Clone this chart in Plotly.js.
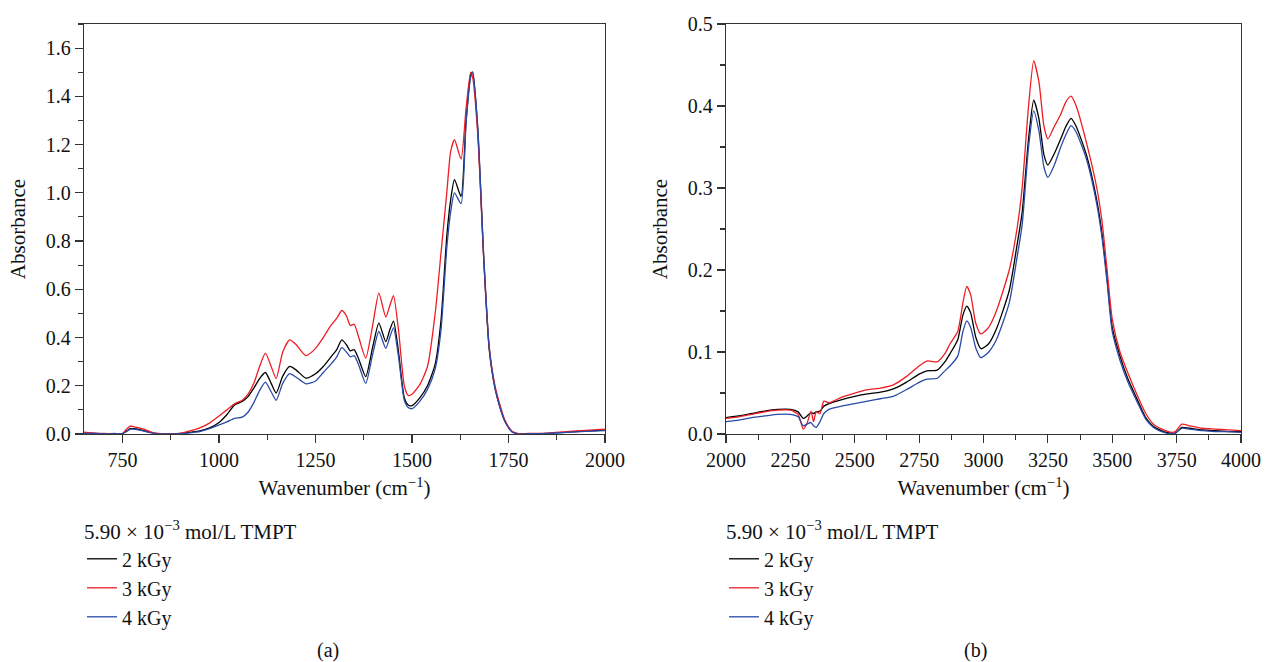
<!DOCTYPE html>
<html>
<head>
<meta charset="utf-8">
<script src="https://cdn.plot.ly/plotly-3.0.1.min.js"></script>
<style>html,body{margin:0;padding:0;background:#fff;}#chart{width:1267px;height:662px;}</style>
</head>
<body>
<div id="chart"></div>
<script>
// ---- Panel (a): 650–2000 cm-1 ----
const wnA = [650,680,700,730,750,760,770,780,790,800,815,830,860,900,930,950,975,1000,1020,1040,1060,1075,1090,1105,1120,1135,1148,1165,1183,1200,1225,1250,1270,1290,1305,1318,1330,1340,1350,1362,1380,1398,1414,1432,1442,1452,1465,1480,1490,1500,1520,1540,1560,1575,1590,1600,1610,1627,1640,1652,1657,1670,1686,1700,1715,1728,1740,1750,1760,1775,1800,1850,1900,1950,2000];
const a3kGy = [0.008,0.003,0.002,0.002,0.003,0.02,0.033,0.03,0.026,0.022,0.014,0.005,0.001,0.003,0.015,0.025,0.045,0.075,0.1,0.125,0.14,0.165,0.21,0.28,0.335,0.28,0.23,0.34,0.39,0.37,0.325,0.355,0.4,0.45,0.48,0.512,0.49,0.45,0.455,0.4,0.315,0.45,0.584,0.485,0.53,0.574,0.43,0.2,0.16,0.165,0.205,0.28,0.5,0.75,1.0,1.17,1.22,1.14,1.35,1.5,1.48,1.25,0.72,0.36,0.2,0.12,0.06,0.03,0.01,0.002,0.002,0.004,0.01,0.015,0.02];
const a2kGy = [0.004,0.002,0.001,0.001,0.002,0.012,0.022,0.022,0.02,0.016,0.01,0.004,0.001,0.002,0.008,0.013,0.025,0.048,0.08,0.12,0.135,0.155,0.19,0.23,0.255,0.21,0.17,0.24,0.28,0.265,0.232,0.25,0.28,0.32,0.35,0.39,0.37,0.345,0.35,0.31,0.238,0.36,0.46,0.383,0.43,0.468,0.34,0.15,0.12,0.118,0.15,0.2,0.29,0.47,0.82,0.97,1.055,0.985,1.3,1.49,1.5,1.27,0.72,0.35,0.19,0.11,0.055,0.028,0.008,0.001,0.001,0.003,0.008,0.012,0.016];
const a4kGy = [0.003,0.002,0.001,0.001,0.002,0.01,0.02,0.02,0.017,0.014,0.008,0.003,0.0,0.001,0.006,0.01,0.022,0.038,0.05,0.065,0.07,0.09,0.13,0.18,0.215,0.175,0.14,0.21,0.25,0.235,0.208,0.22,0.255,0.29,0.32,0.358,0.34,0.32,0.325,0.285,0.21,0.33,0.425,0.355,0.4,0.44,0.32,0.14,0.11,0.105,0.135,0.185,0.27,0.43,0.77,0.92,1.0,0.955,1.29,1.48,1.5,1.28,0.73,0.36,0.19,0.11,0.055,0.025,0.007,0.0,0.001,0.002,0.007,0.011,0.014];

// ---- Panel (b): 2000–4000 cm-1 ----
const wnB = [2000,2050,2100,2150,2200,2250,2280,2300,2315,2330,2340,2350,2365,2380,2400,2450,2500,2550,2600,2650,2700,2750,2780,2820,2850,2870,2900,2920,2935,2950,2970,2990,3020,3050,3100,3130,3150,3175,3195,3215,3235,3250,3275,3300,3320,3340,3360,3400,3440,3460,3480,3500,3530,3560,3600,3630,3660,3700,3730,3745,3770,3800,3850,3900,3950,4000];
const b3kGy = [0.019,0.021,0.024,0.027,0.029,0.029,0.024,0.006,0.013,0.028,0.015,0.027,0.025,0.04,0.038,0.045,0.05,0.054,0.056,0.06,0.07,0.083,0.089,0.088,0.098,0.11,0.125,0.16,0.18,0.17,0.135,0.122,0.13,0.15,0.2,0.25,0.3,0.4,0.455,0.43,0.375,0.36,0.375,0.39,0.405,0.412,0.4,0.355,0.3,0.26,0.2,0.14,0.1,0.075,0.045,0.025,0.012,0.005,0.002,0.003,0.012,0.01,0.007,0.006,0.005,0.004];
const b2kGy = [0.02,0.022,0.025,0.028,0.03,0.03,0.027,0.019,0.022,0.026,0.025,0.027,0.028,0.034,0.037,0.042,0.046,0.049,0.051,0.055,0.063,0.073,0.077,0.078,0.088,0.098,0.115,0.145,0.156,0.148,0.118,0.104,0.11,0.128,0.175,0.23,0.27,0.36,0.407,0.385,0.34,0.328,0.342,0.36,0.375,0.385,0.375,0.34,0.285,0.245,0.19,0.13,0.095,0.068,0.04,0.02,0.009,0.003,0.001,0.001,0.008,0.007,0.005,0.004,0.003,0.003];
const b4kGy = [0.015,0.017,0.02,0.022,0.024,0.024,0.021,0.01,0.012,0.014,0.01,0.008,0.015,0.025,0.03,0.034,0.037,0.04,0.043,0.046,0.054,0.063,0.067,0.068,0.077,0.083,0.095,0.125,0.138,0.13,0.105,0.093,0.1,0.115,0.16,0.215,0.255,0.35,0.394,0.37,0.325,0.313,0.328,0.35,0.365,0.376,0.368,0.335,0.28,0.24,0.185,0.125,0.09,0.064,0.037,0.018,0.008,0.002,0.0,0.001,0.007,0.006,0.004,0.003,0.003,0.002];

const seriesNames = ['2 kGy','3 kGy','4 kGy'];
const seriesColors = ['#000000','#ee1d24','#2a4aa6'];
const legendTitle = '5.90 \u00d7 10<sup>\u22123</sup> mol/L TMPT';
const captions = ['(a)','(b)'];

const FONT = 'Liberation Serif, Times New Roman, serif';
const W = 1267, H = 662;
const px = v => v / W, py = v => 1 - v / H;

function mk(x, y, i, xa, ya, leg) {
  return {x: x, y: y, type: 'scatter', mode: 'lines', name: seriesNames[i],
    xaxis: xa, yaxis: ya, legend: leg,
    line: {color: seriesColors[i], width: 1.3, shape: 'spline', smoothing: 0.6}};
}
const traces = [
  mk(wnA, a2kGy, 0, 'x', 'y', 'legend'),
  mk(wnA, a3kGy, 1, 'x', 'y', 'legend'),
  mk(wnA, a4kGy, 2, 'x', 'y', 'legend'),
  mk(wnB, b2kGy, 0, 'x2', 'y2', 'legend2'),
  mk(wnB, b3kGy, 1, 'x2', 'y2', 'legend2'),
  mk(wnB, b4kGy, 2, 'x2', 'y2', 'legend2')
];

const axBase = {
  showgrid: false, zeroline: false, showline: true, mirror: true,
  linecolor: '#333', linewidth: 1.3, ticks: 'outside', ticklen: 8, tickwidth: 1.2,
  tickcolor: '#333', tickfont: {family: FONT, size: 20, color: '#111'},
  automargin: false
};
function xax(domain, range, anchor) {
  return Object.assign({}, axBase, {domain: domain, range: range, anchor: anchor,
    dtick: 250, tick0: 0,
    minor: {dtick: 125, tick0: 0, ticks: 'outside', ticklen: 5, tickcolor: '#333', tickwidth: 1.1},
    title: {text: 'Wavenumber (cm<sup>\u22121</sup>)', font: {family: FONT, size: 21, color: '#111'}, standoff: 10}});
}
function yax(domain, range, dt, anchor) {
  return Object.assign({}, axBase, {domain: domain, range: range, anchor: anchor,
    dtick: dt, tick0: 0, tickformat: '.1f',
    minor: {dtick: dt / 2, tick0: 0, ticks: 'outside', ticklen: 5, tickcolor: '#333', tickwidth: 1.1},
    title: {text: 'Absorbance', font: {family: FONT, size: 21, color: '#111'}, standoff: 14}});
}

const legBase = {
  xanchor: 'left', yanchor: 'top', bgcolor: 'rgba(0,0,0,0)', borderwidth: 0,
  font: {family: FONT, size: 20, color: '#111'}, tracegroupgap: 0,
  title: {text: legendTitle, side: 'top', font: {family: FONT, size: 21, color: '#111'}}
};

const layout = {
  width: W, height: H, margin: {l: 0, r: 0, t: 0, b: 0},
  paper_bgcolor: '#fff', plot_bgcolor: '#fff', showlegend: true,
  xaxis: xax([px(84), px(605)], [650, 2000], 'y'),
  yaxis: yax([py(434), py(24)], [0, 1.7], 0.2, 'x'),
  xaxis2: xax([px(726), px(1241)], [2000, 4000], 'y2'),
  yaxis2: yax([py(434), py(24)], [0, 0.5], 0.1, 'x2'),
  legend: Object.assign({}, legBase, {x: px(82), y: py(512)}),
  legend2: Object.assign({}, legBase, {x: px(724), y: py(512)}),
  annotations: [
    {text: captions[0], x: px(328), y: py(650), xref: 'paper', yref: 'paper', showarrow: false,
     xanchor: 'center', yanchor: 'middle', font: {family: FONT, size: 20, color: '#111'}},
    {text: captions[1], x: px(975), y: py(650), xref: 'paper', yref: 'paper', showarrow: false,
     xanchor: 'center', yanchor: 'middle', font: {family: FONT, size: 20, color: '#111'}}
  ]
};

Plotly.newPlot('chart', traces, layout, {displayModeBar: false, staticPlot: true});
</script>
</body>
</html>
